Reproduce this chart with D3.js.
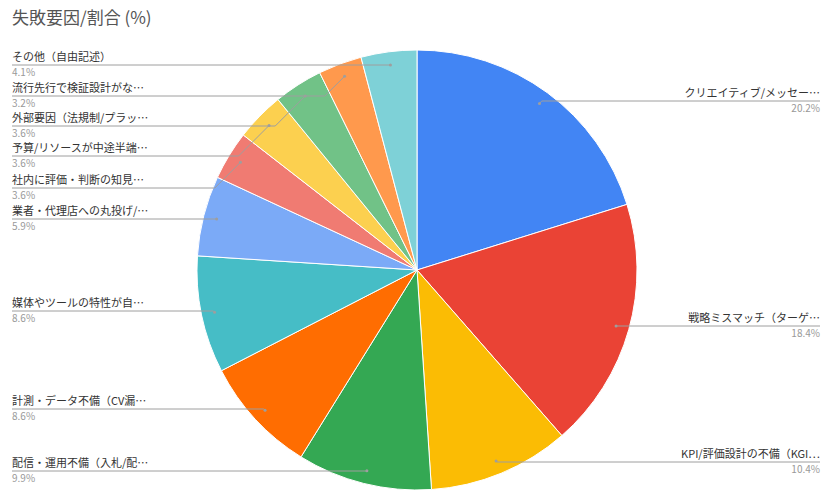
<!DOCTYPE html>
<html><head><meta charset="utf-8">
<script src="https://cdn.jsdelivr.net/npm/d3@7"></script>
<style>body{margin:0;background:#fff;font-family:"Noto Sans CJK JP",sans-serif}</style>
</head><body><svg id="c" width="840" height="498"></svg>
<script>
const categories = ["クリエイティブ/メッセー…","戦略ミスマッチ（ターゲ…","KPI/評価設計の不備（KGI…","配信・運用不備（入札/配…","計測・データ不備（CV漏…","媒体やツールの特性が自…","業者・代理店への丸投げ/…","社内に評価・判断の知見…","予算/リソースが中途半端…","外部要因（法規制/プラッ…","流行先行で検証設計がな…","その他（自由記述）"];
const values = [20.2,18.4,10.4,9.9,8.6,8.6,5.9,3.6,3.6,3.6,3.2,4.1];
const colors = ["#4285f4","#ea4335","#fbbc04","#34a853","#ff6d01","#46bdc6","#7baaf7","#f07b72","#fcd04f","#71c287","#ff994d","#7ed1d7"];
const labelY = [101,326,462,471,409,311,219,188,156,126,96,65];

const svg = d3.select("#c");
const cx = 417, cy = 270, r = 220;
svg.append("text").attr("x",12).attr("y",24).attr("font-size",17).attr("fill","#555").text("失敗要因/割合 (%)");

const arcs = d3.pie().sort(null)(values);
const arc = d3.arc().innerRadius(0).outerRadius(r);
const g = svg.append("g").attr("transform",`translate(${cx},${cy})`);
g.selectAll("path").data(arcs).enter().append("path")
  .attr("d",arc).attr("fill",(d,i)=>colors[i]).attr("stroke","#fff").attr("stroke-width",1);

const lbl = svg.append("g");
arcs.forEach((d,i)=>{
  const a = (d.startAngle+d.endAngle)/2;
  const px = cx + Math.sin(a)*r*0.94, py = cy - Math.cos(a)*r*0.94;
  const ly = labelY[i];
  const right = a < Math.PI;
  const ex = right ? 820 : 12;
  const dy = Math.abs(py-ly);
  const kx = right ? Math.min(px+dy, ex) : Math.max(px-dy, ex);
  lbl.append("polyline").attr("points",`${ex},${ly} ${kx},${ly} ${px},${py}`)
    .attr("fill","none").attr("stroke","#9e9e9e").attr("stroke-width",1);
  lbl.append("circle").attr("cx",px).attr("cy",py).attr("r",1.5).attr("fill","#9e9e9e");
  const anchor = right ? "end" : "start";
  lbl.append("text").attr("x",ex).attr("y",ly-4).attr("text-anchor",anchor)
    .attr("font-size",11).attr("fill","#333").text(categories[i]);
  lbl.append("text").attr("x",ex).attr("y",ly+11).attr("text-anchor",anchor)
    .attr("font-size",10).attr("fill","#999").text(values[i].toFixed(1)+"%");
});
</script></body></html>
